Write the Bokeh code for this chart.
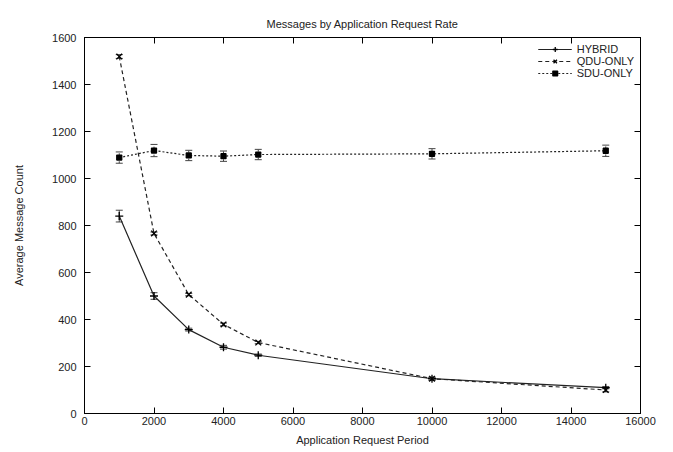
from bokeh.plotting import figure
from bokeh.models import (ColumnDataSource, Whisker, TeeHead, LinearAxis, FixedTicker,
                          Range1d, Legend, LegendItem, CustomJSTickFormatter)
from bokeh.embed import file_html
from bokeh.resources import INLINE

periods = [1000, 2000, 3000, 4000, 5000, 10000, 15000]
hybrid = [840, 500, 357, 282, 248, 148, 110]
hybrid_err = [25, 14, 6, 8, 5, 6, 5]
qdu = [1519, 766, 506, 379, 302, 148, 100]
qdu_err = [8, 6, 5, 6, 5, 6, 8]
sdu = [1089, 1119, 1098, 1095, 1102, 1105, 1118]
sdu_err = [24, 26, 22, 22, 22, 22, 24]
x_ticks = [0, 2000, 4000, 6000, 8000, 10000, 12000, 14000, 16000]
y_ticks = [0, 200, 400, 600, 800, 1000, 1200, 1400, 1600]

FONT = "Liberation Sans"

p = figure(width=670, height=450, output_backend="svg", toolbar_location=None,
           x_range=Range1d(0, 16000), y_range=Range1d(0, 1600),
           title="Messages by Application Request Rate",
           x_axis_label="Application Request Period",
           y_axis_label="Average Message Count",
           min_border_left=84, min_border_right=30, min_border_top=37, min_border_bottom=37)
p.grid.visible = False
p.outline_line_color = "black"
p.outline_line_width = 1
p.title.align = "center"
p.title.text_font = FONT
p.title.text_font_size = "11px"
p.title.text_font_style = "normal"
p.title.text_color = "#222222"
p.title.standoff = 16

for ax, ticks in ((p.xaxis[0], x_ticks), (p.yaxis[0], y_ticks)):
    ax.ticker = FixedTicker(ticks=ticks)
    ax.major_tick_in = 6
    ax.major_tick_out = 0
    ax.minor_tick_in = 0
    ax.minor_tick_out = 0
    ax.axis_line_color = "black"
    ax.major_tick_line_color = "black"
    ax.major_label_text_font = FONT
    ax.major_label_text_font_size = "11px"
    ax.major_label_text_color = "#222222"
    ax.axis_label_text_font = FONT
    ax.axis_label_text_font_size = "11px"
    ax.axis_label_text_font_style = "normal"
    ax.axis_label_text_color = "#222222"
p.xaxis[0].major_label_standoff = 3
p.xaxis[0].axis_label_standoff = 6
p.yaxis[0].major_label_standoff = 8
p.yaxis[0].axis_label_standoff = 24

blank = CustomJSTickFormatter(code="return ''")
# mirrored ticks on top and right
top = LinearAxis(ticker=FixedTicker(ticks=x_ticks), formatter=blank,
                 major_tick_in=6, major_tick_out=0, minor_tick_in=0, minor_tick_out=0,
                 major_label_standoff=0, axis_line_color="black")
right = LinearAxis(ticker=FixedTicker(ticks=y_ticks), formatter=blank,
                   major_tick_in=6, major_tick_out=0, minor_tick_in=0, minor_tick_out=0,
                   major_label_standoff=0, axis_line_color="black")
p.add_layout(top, "above")
p.add_layout(right, "right")

series = [
    ("HYBRID", hybrid, hybrid_err, "solid", "cross", 8),
    ("QDU-ONLY", qdu, qdu_err, "4 3", "x", 8),
    ("SDU-ONLY", sdu, sdu_err, "2 2", "square", 5),
]
items = []
for name, vals, errs, dash, marker, size in series:
    src = ColumnDataSource(dict(x=periods, y=vals,
                                lo=[v - e for v, e in zip(vals, errs)],
                                hi=[v + e for v, e in zip(vals, errs)]))
    ln = p.line("x", "y", source=src, line_color="#222222", line_width=1.2, line_dash=dash)
    sc = p.scatter("x", "y", source=src, marker=marker, size=size,
                   line_color="black", fill_color="black", line_width=1.3)
    w = Whisker(source=src, base="x", lower="lo", upper="hi", dimension="height",
                line_color="#444444", line_width=1, line_dash=dash,
                upper_head=TeeHead(size=7, line_color="#444444", line_width=1),
                lower_head=TeeHead(size=7, line_color="#444444", line_width=1))
    p.add_layout(w)
    items.append(LegendItem(label=name, renderers=[ln, sc]))

legend = Legend(items=items, location="top_right", spacing=0, padding=2, margin=4,
                glyph_width=34, glyph_height=12, label_height=12,
                label_text_font=FONT, label_text_font_size="11px",
                label_text_color="#222222", border_line_alpha=0,
                background_fill_alpha=0)
p.add_layout(legend)

open("out.html", "w").write(file_html(p, INLINE))
